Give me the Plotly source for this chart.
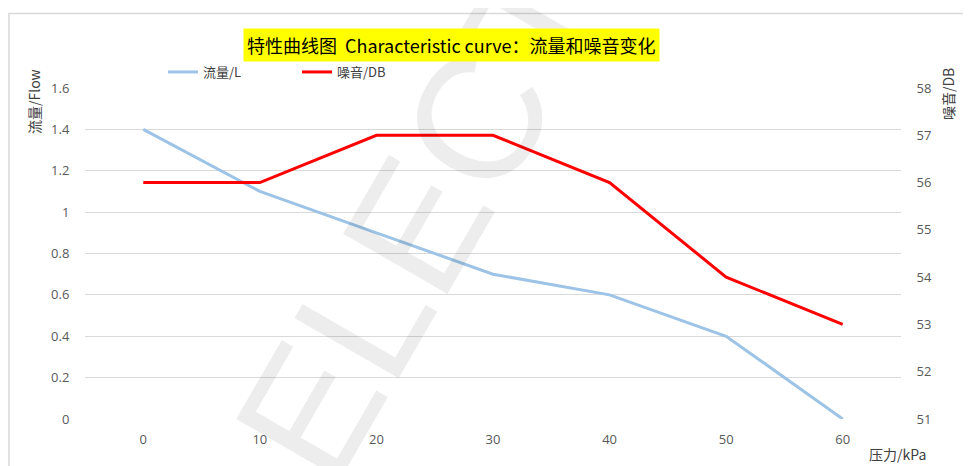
import plotly.graph_objects as go

pressure = ["0", "10", "20", "30", "40", "50", "60"]
flow = [1.4, 1.1, 0.9, 0.7, 0.6, 0.4, 0.0]
noise = [56, 56, 57, 57, 56, 54, 53]
flow_ticks = [0, 0.2, 0.4, 0.6, 0.8, 1, 1.2, 1.4, 1.6]
noise_ticks = [51, 52, 53, 54, 55, 56, 57, 58]

# page body has an 8px default margin: shift everything by it
OFF = 8
W, H = 971 - OFF, 466 - OFF
PL, PR, PT, PB = 85, 901, 88, 419  # plot area in window pixels
L, R, T, B = PL - OFF, W - (PR - OFF), PT - OFF, H - (PB - OFF)
pw, ph = PR - PL, PB - PT

def px(x):
    return (x - PL) / pw

def py(y):
    return (PB - y) / ph

tick_font = dict(family="Open Sans, Noto Sans CJK SC", size=13, color="#595959")
cjk = "Noto Sans CJK SC, Open Sans"

fig = go.Figure()
fig.add_trace(go.Scatter(x=pressure, y=flow, name="流量/L", mode="lines",
                         line=dict(color="#9DC3E6", width=3), yaxis="y"))
fig.add_trace(go.Scatter(x=pressure, y=noise, name="噪音/DB", mode="lines",
                         line=dict(color="#FF0000", width=3), yaxis="y2"))

fig.update_layout(
    width=W, height=H,
    margin=dict(l=L, r=R, t=T, b=B),
    paper_bgcolor="white", plot_bgcolor="white",
    showlegend=True,
    legend=dict(orientation="h", x=px(163), y=py(57), xanchor="left", yanchor="top",
                font=dict(family=cjk, size=13, color="#404040"),
                entrywidth=89, entrywidthmode="pixels", itemwidth=30,
                bgcolor="rgba(0,0,0,0)"),
    xaxis=dict(type="category", range=[-0.5, 6.5], showgrid=False, zeroline=False,
               showline=False, ticks="outside", ticklen=8, tickcolor="rgba(0,0,0,0)",
               tickfont=tick_font, fixedrange=True),
    yaxis=dict(range=[0, 1.6], tickvals=flow_ticks, ticktext=[f"{v:g}" for v in flow_ticks],
               showgrid=True, gridcolor="#d9d9d9", gridwidth=1, zeroline=False,
               showline=False, ticks="outside", ticklen=12, tickcolor="rgba(0,0,0,0)",
               tickfont=tick_font),
    yaxis2=dict(range=[51, 58], tickvals=noise_ticks, overlaying="y", side="right",
                showgrid=False, zeroline=False, showline=False, ticks="outside",
                ticklen=12, tickcolor="rgba(0,0,0,0)", tickfont=tick_font),
)

# chart frame
fig.add_shape(type="rect", xref="paper", yref="paper",
              x0=px(9), x1=px(990), y0=py(13.5), y1=py(490),
              line=dict(color="#d9d9d9", width=1.5), fillcolor="rgba(0,0,0,0)", layer="below")

annotations = [
    dict(text="AELECT", x=px(392), y=py(268), xref="paper", yref="paper", showarrow=False,
         textangle=-60, xanchor="center", yanchor="middle",
         font=dict(family="Liberation Sans, Arial", size=175, color="rgba(0,0,0,0.07)")),
    dict(text="特性曲线图  Characteristic curve：流量和噪音变化", x=px(451), y=py(45),
         xref="paper", yref="paper", showarrow=False, xanchor="center", yanchor="middle",
         font=dict(family=cjk, size=18, color="#000000"), bgcolor="#FFFF00", borderpad=3),
    dict(text="流量/Flow", x=px(34), y=py(102), xref="paper", yref="paper", showarrow=False,
         textangle=-90, xanchor="center", yanchor="middle",
         font=dict(family=cjk, size=14, color="#404040")),
    dict(text="噪音/DB", x=px(948), y=py(94), xref="paper", yref="paper", showarrow=False,
         textangle=-90, xanchor="center", yanchor="middle",
         font=dict(family=cjk, size=14, color="#404040")),
    dict(text="压力/kPa", x=px(897), y=py(454), xref="paper", yref="paper", showarrow=False,
         xanchor="center", yanchor="middle",
         font=dict(family=cjk, size=14, color="#404040")),
]
fig.update_layout(annotations=annotations)

fig.write_html("out.html")
